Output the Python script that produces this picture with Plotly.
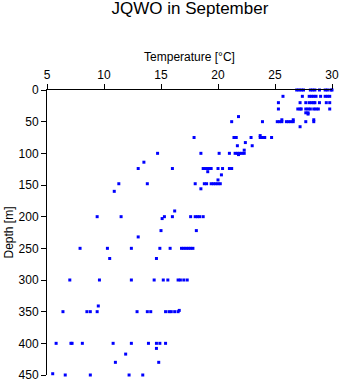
import plotly.graph_objects as go

# Temperature (°C) and depth (m) readings, grouped by depth row
depth_rows = [0, 10, 20, 30, 36, 38, 42, 47, 50, 58, 72, 75, 83, 88, 95, 100, 102,
              114, 124, 129, 134, 142, 148, 156, 160, 191, 200, 203, 222, 232, 250,
              266, 300, 341, 348, 350, 400, 408, 417, 430, 448, 450]
temp_rows = [
    [26.9, 27.1, 27.3, 27.5, 28.1, 28.3, 28.5, 28.9, 29.4, 29.6, 29.9, 30.0],
    [25.7, 27.4, 28.0, 28.2, 28.4, 28.6, 29.0, 29.4, 29.6, 29.8],
    [25.3, 27.2, 27.7, 28.0, 28.2, 28.4, 28.5, 28.9, 29.5, 29.8],
    [25.3, 27.0, 27.2, 27.3, 27.7, 27.9, 28.1, 28.4, 28.6, 28.8, 29.8],
    [27.7, 27.9],
    [27.9],
    [21.8],
    [25.6, 26.6, 28.4],
    [21.2, 23.9, 25.2, 25.4, 25.6, 26.0, 26.2, 26.4, 26.6, 27.7, 28.4],
    [27.2],
    [23.7],
    [17.9, 21.4, 21.6, 22.9, 23.7, 23.9, 24.1, 24.7],
    [22.4],
    [21.7, 23.0],
    [22.3],
    [14.7, 18.5, 20.1, 21.0, 21.5, 21.7, 21.9, 22.1, 22.3],
    [21.8],
    [13.5],
    [13.0, 16.0, 18.7, 18.9, 19.1, 19.3, 19.4, 20.0, 20.4, 21.0, 21.2],
    [19.1],
    [20.3],
    [20.0],
    [11.3, 13.8, 18.0, 18.8, 19.0, 19.4, 19.6, 19.8, 20.0, 20.2],
    [18.5],
    [10.9],
    [16.2],
    [9.4, 11.5, 15.3, 16.0, 17.6, 18.0, 18.2, 18.4, 18.7],
    [15.1],
    [15.0, 18.1],
    [13.0],
    [7.9, 10.3, 12.4, 14.9, 15.8, 16.8, 17.0, 17.2, 17.4, 17.6, 17.8],
    [10.5, 14.6],
    [7.0, 9.6, 12.4, 14.4, 15.2, 15.6, 16.5, 16.7, 17.0, 17.3],
    [9.5],
    [16.6],
    [6.4, 8.5, 8.8, 9.4, 12.9, 13.8, 14.1, 15.4, 15.7, 15.9, 16.2, 16.5],
    [5.8, 7.1, 7.2, 8.1, 10.8, 12.4, 13.9, 14.6, 14.9, 15.4],
    [14.6],
    [11.9],
    [11.0, 14.8],
    [5.5],
    [6.6, 8.8, 12.2, 13.4],
]

x_ticks = [5, 10, 15, 20, 25, 30]
y_ticks = [0, 50, 100, 150, 200, 250, 300, 350, 400, 450]

temps = []
depths = []
for d, row in zip(depth_rows, temp_rows):
    for t in row:
        temps.append(t)
        depths.append(d)

fig = go.Figure(go.Scatter(
    x=temps, y=depths, mode="markers",
    marker=dict(symbol="square", size=3, color="#0000ff", line=dict(width=0)),
    cliponaxis=False, hoverinfo="skip",
))

font = dict(family="Liberation Sans, Arial, sans-serif", size=12, color="black")
fig.update_layout(
    width=341, height=384,
    margin=dict(l=47, r=9, t=90, b=9, autoexpand=False),
    paper_bgcolor="white", plot_bgcolor="white",
    showlegend=False,
    font=font,
    title=dict(text="JQWO in September", x=0.557, xanchor="center", y=0.995, yanchor="top",
               font=dict(family="Liberation Sans, Arial, sans-serif", size=17, color="black")),
    xaxis=dict(range=[5, 30], side="top", tickvals=x_ticks, ticks="outside", ticklen=5,
               tickcolor="black", showline=True, linecolor="black", linewidth=1,
               showgrid=False, zeroline=False, automargin=False,
               title=dict(text="Temperature [°C]", standoff=4, font=font)),
    yaxis=dict(range=[450, 0], tickvals=y_ticks, ticks="outside", ticklen=5,
               tickcolor="black", showline=True, linecolor="black", linewidth=1,
               showgrid=False, zeroline=False, automargin=False,
               title=dict(text="Depth [m]", standoff=2, font=font)),
)

fig.write_html("out.html")
